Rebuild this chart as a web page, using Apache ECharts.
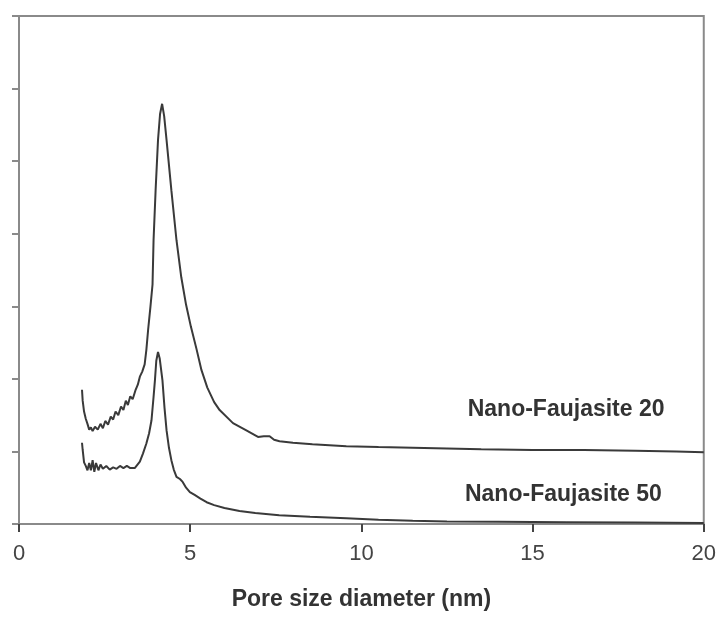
<!DOCTYPE html>
<html>
<head>
<meta charset="utf-8">
<script src="https://cdn.jsdelivr.net/npm/echarts@6/dist/echarts.min.js"></script>
<style>
  html, body { margin: 0; padding: 0; background: #fff; }
  #chart { width: 719px; height: 617px; }
</style>
</head>
<body>
<div id="chart"></div>
<script>
// pore size distribution, [diameter nm, intensity]
var nf20 = [
  [1.84, 1.85], [1.86, 1.70], [1.90, 1.55], [1.95, 1.45], [2.00, 1.38], [2.05, 1.30],
  [2.10, 1.33], [2.15, 1.28], [2.22, 1.34], [2.30, 1.30], [2.38, 1.38], [2.45, 1.32],
  [2.52, 1.42], [2.60, 1.37], [2.68, 1.48], [2.75, 1.44], [2.82, 1.55], [2.90, 1.50],
  [2.98, 1.62], [3.05, 1.57], [3.12, 1.70], [3.18, 1.64], [3.25, 1.76], [3.32, 1.72],
  [3.40, 1.84], [3.47, 1.92], [3.53, 2.03], [3.60, 2.10], [3.67, 2.20], [3.72, 2.40],
  [3.77, 2.67], [3.84, 3.00], [3.90, 3.30], [3.93, 3.91], [3.99, 4.60], [4.06, 5.29],
  [4.12, 5.65], [4.18, 5.79], [4.24, 5.62], [4.31, 5.29], [4.45, 4.60], [4.60, 3.91],
  [4.74, 3.40], [4.88, 3.02], [5.02, 2.72], [5.18, 2.42], [5.33, 2.12], [5.50, 1.88],
  [5.70, 1.68], [5.86, 1.57], [6.25, 1.39], [6.64, 1.29], [6.98, 1.20], [7.15, 1.21],
  [7.32, 1.21], [7.45, 1.16], [7.61, 1.14], [8.00, 1.12], [8.57, 1.10], [9.56, 1.07],
  [10.5, 1.06], [11.5, 1.05], [12.5, 1.04], [13.5, 1.03], [15.0, 1.02], [16.5, 1.02],
  [18.0, 1.01], [19.2, 1.00], [20.0, 0.99]
];
var nf50 = [
  [1.84, 1.12], [1.86, 1.02], [1.90, 0.85], [1.95, 0.80], [2.00, 0.74], [2.05, 0.84],
  [2.10, 0.74], [2.15, 0.88], [2.20, 0.72], [2.25, 0.84], [2.32, 0.74], [2.38, 0.82],
  [2.45, 0.76], [2.55, 0.80], [2.65, 0.75], [2.75, 0.78], [2.85, 0.76], [2.95, 0.80],
  [3.05, 0.77], [3.15, 0.80], [3.25, 0.77], [3.38, 0.77], [3.53, 0.86], [3.62, 0.97],
  [3.72, 1.11], [3.80, 1.25], [3.87, 1.43], [3.93, 1.75], [3.97, 1.98], [4.01, 2.25],
  [4.06, 2.37], [4.11, 2.28], [4.19, 1.98], [4.25, 1.60], [4.31, 1.29], [4.38, 1.05],
  [4.45, 0.88], [4.52, 0.75], [4.60, 0.65], [4.70, 0.62], [4.78, 0.58], [4.88, 0.50],
  [4.99, 0.44], [5.13, 0.40], [5.30, 0.35], [5.48, 0.30], [5.70, 0.26], [6.00, 0.22],
  [6.44, 0.18], [6.90, 0.15], [7.60, 0.12], [8.50, 0.10], [9.56, 0.08], [10.5, 0.06],
  [11.5, 0.045], [12.5, 0.035], [14.0, 0.03], [16.0, 0.025], [18.0, 0.02], [20.0, 0.015]
];
var seriesNames = ['Nano-Faujasite 20', 'Nano-Faujasite 50'];
var labelAt = [[15.98, 1.57], [15.9, 0.40]];

var ink = '#3a3a3a';
var axisGray = '#8a8a8a';
var font = 'Liberation Sans, Arial, sans-serif';

var chart = echarts.init(document.getElementById('chart'), null, { renderer: 'canvas' });

function curve(name, data, lbl) {
  return {
    name: name,
    type: 'line',
    data: data,
    showSymbol: false,
    lineStyle: { color: ink, width: 2 },
    markPoint: {
      symbol: 'circle',
      symbolSize: 0,
      silent: true,
      label: {
        show: true,
        position: 'inside',
        formatter: name,
        color: '#333',
        fontFamily: font,
        fontWeight: 'bold',
        fontSize: 23
      },
      data: [{ coord: lbl }]
    }
  };
}

chart.setOption({
  animation: false,
  backgroundColor: '#fff',
  grid: {
    left: 19, right: 14, top: 16, bottom: 93,
    show: true,
    borderColor: axisGray,
    borderWidth: 2
  },
  xAxis: {
    type: 'value',
    min: 0, max: 20, interval: 5,
    name: 'Pore size diameter (nm)',
    nameLocation: 'middle',
    nameGap: 64,
    nameTextStyle: {
      color: '#333',
      fontFamily: font,
      fontWeight: 'bold',
      fontSize: 23
    },
    axisLine: { lineStyle: { color: axisGray, width: 2 } },
    axisTick: { length: 8, lineStyle: { color: '#444', width: 2 } },
    axisLabel: {
      color: '#444',
      fontFamily: font,
      fontSize: 22,
      margin: 19
    },
    splitLine: { show: false }
  },
  yAxis: {
    type: 'value',
    min: 0, max: 7, interval: 1,
    axisLine: { show: true, lineStyle: { color: axisGray, width: 2 } },
    axisTick: { show: true, length: 7, lineStyle: { color: axisGray, width: 2 } },
    axisLabel: { show: false },
    splitLine: { show: false }
  },
  series: [
    curve(seriesNames[0], nf20, labelAt[0]),
    curve(seriesNames[1], nf50, labelAt[1])
  ]
});
window.addEventListener('resize', function() { chart.resize(); });
</script>
</body>
</html>
